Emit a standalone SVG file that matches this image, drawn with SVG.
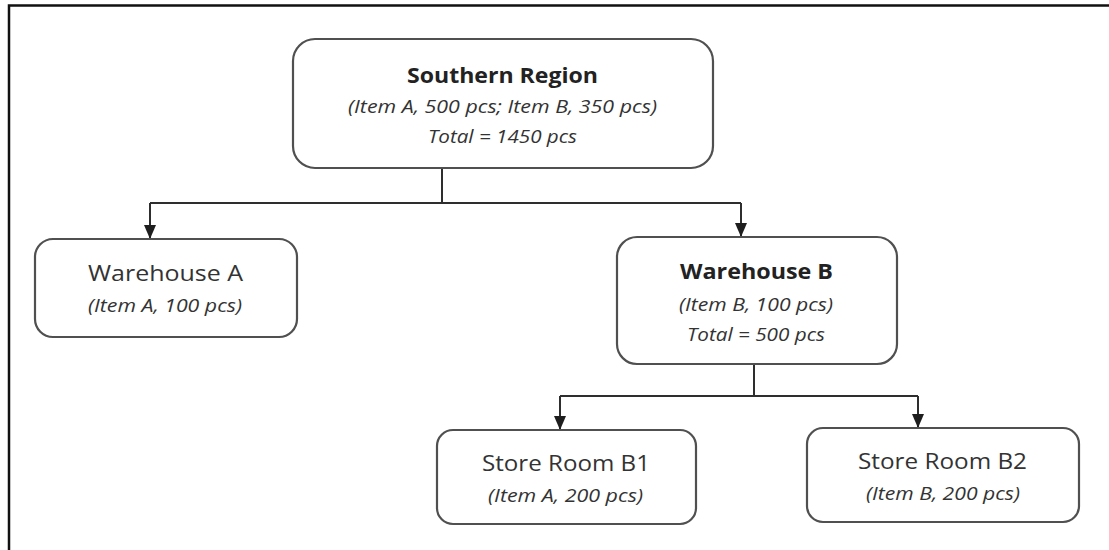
<svg xmlns="http://www.w3.org/2000/svg" width="1109" height="550" viewBox="0 0 1109 550">
<style>
  .box { fill: #ffffff; stroke: #505050; stroke-width: 2.2; }
  .t { font-family: "Open Sans", "Noto Sans", sans-serif; fill: #333333; }
  .b { font-size: 22px; font-weight: bold; fill: #222222; }
  .r { font-size: 21px; }
  .i { font-size: 18px; font-style: italic; }
  .conn { fill: none; stroke: #2e2e2e; stroke-width: 2; }
  .frame { stroke: #111111; stroke-width: 2.5; fill: none; }
</style>
<defs>
  <marker id="arr" markerUnits="userSpaceOnUse" markerWidth="15" markerHeight="13" refX="14" refY="6.5" orient="auto" viewBox="0 0 15 13">
    <path d="M0,0.5 L14,6.5 L0,12.5 z" fill="#1e1e1e"/>
  </marker>
</defs>
<rect width="1109" height="550" fill="#ffffff"/>
<path class="frame" d="M9,550 V5.5 H1109"/>

<g id="connectors">
  <path class="conn" d="M442,168 V203"/>
  <path class="conn" d="M150,203 H741"/>
  <path class="conn" d="M150,203 V239" marker-end="url(#arr)"/>
  <path class="conn" d="M741,203 V237" marker-end="url(#arr)"/>
  <path class="conn" d="M754,364 V396"/>
  <path class="conn" d="M560,396 H918"/>
  <path class="conn" d="M560,396 V430" marker-end="url(#arr)"/>
  <path class="conn" d="M918,396 V428" marker-end="url(#arr)"/>
</g>

<g id="southern-region">
  <rect class="box" x="293" y="39" width="420" height="129" rx="22"/>
  <text class="t b" x="407" y="83" textLength="191" lengthAdjust="spacingAndGlyphs">Southern Region</text>
  <text class="t i" x="348" y="113" textLength="309" lengthAdjust="spacingAndGlyphs">(Item A, 500 pcs; Item B, 350 pcs)</text>
  <text class="t i" x="428" y="143" textLength="149" lengthAdjust="spacingAndGlyphs">Total = 1450 pcs</text>
</g>

<g id="warehouse-a">
  <rect class="box" x="35" y="239" width="262" height="98" rx="18"/>
  <text class="t r" x="88" y="281" textLength="155" lengthAdjust="spacingAndGlyphs">Warehouse A</text>
  <text class="t i" x="88" y="312" textLength="154" lengthAdjust="spacingAndGlyphs">(Item A, 100 pcs)</text>
</g>

<g id="warehouse-b">
  <rect class="box" x="617" y="237" width="280" height="127" rx="20"/>
  <text class="t b" x="680" y="279" textLength="153" lengthAdjust="spacingAndGlyphs">Warehouse B</text>
  <text class="t i" x="679" y="311" textLength="154" lengthAdjust="spacingAndGlyphs">(Item B, 100 pcs)</text>
  <text class="t i" x="687" y="341" textLength="138" lengthAdjust="spacingAndGlyphs">Total = 500 pcs</text>
</g>

<g id="store-room-b1">
  <rect class="box" x="437" y="430" width="259" height="94" rx="16"/>
  <text class="t r" x="482" y="471" textLength="168" lengthAdjust="spacingAndGlyphs">Store Room B1</text>
  <text class="t i" x="488" y="502" textLength="155" lengthAdjust="spacingAndGlyphs">(Item A, 200 pcs)</text>
</g>

<g id="store-room-b2">
  <rect class="box" x="807" y="428" width="272" height="94" rx="16"/>
  <text class="t r" x="858" y="469" textLength="169" lengthAdjust="spacingAndGlyphs">Store Room B2</text>
  <text class="t i" x="866" y="500" textLength="154" lengthAdjust="spacingAndGlyphs">(Item B, 200 pcs)</text>
</g>
</svg>
